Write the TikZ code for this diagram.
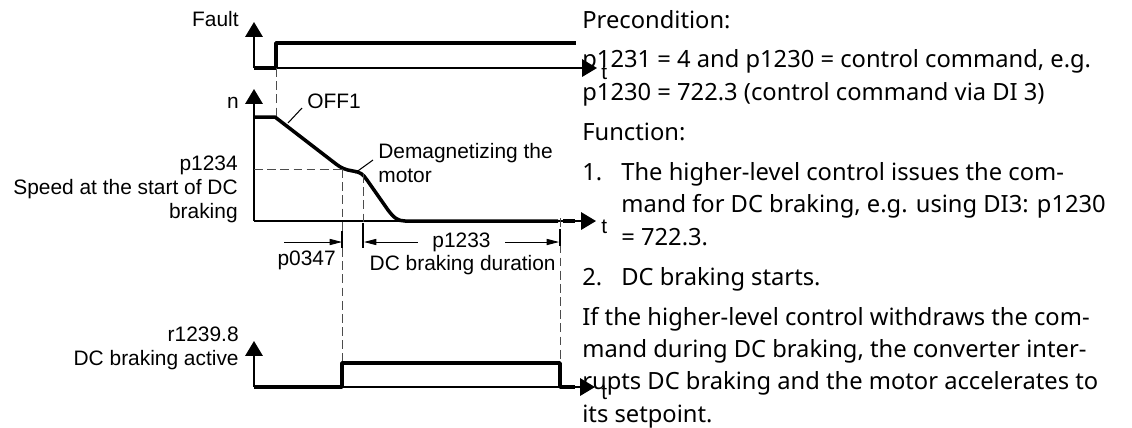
\documentclass[tikz,border=0pt]{standalone}
\usepackage{fontspec}
\setmainfont{Liberation Sans}
\newfontfamily\txtfont{Noto Sans}
\usetikzlibrary{arrows.meta, positioning}

\begin{document}
\begin{tikzpicture}[
    x=0.02cm, y=-0.02cm,
    lbl/.style={font=\fontsize{11.9}{13.6}\selectfont, inner sep=0pt, align=right},
    txt/.style={font=\txtfont\fontsize{13.5}{18.3}\selectfont, inner sep=0pt,
                anchor=base west, align=left},
    axis/.style={line width=0.8pt, -{Triangle[length=8.5pt,width=10pt]}},
    sig/.style={line width=2pt, line join=round},
    guide/.style={black!70, line width=0.5pt, dash pattern=on 5pt off 2.5pt},
    dim/.style={line width=0.5pt, -{Triangle[length=7pt,width=3.5pt]}},
    tick/.style={line width=0.6pt}
]
    \useasboundingbox (0,0) rectangle (1132,427);

    % Fault
    \coordinate (fo) at (254,68);
    \coordinate (fy) at (254,22);
    \coordinate (fx) at (597,68);
    \draw[axis] (fo) -- (fy);
    \draw[axis] (fo) -- (fx);
    \draw[sig] (fo) -- (276,68) -- (276,43) -- (576,43);
    \node[lbl, anchor=base east] (fault) at (239,26) {Fault};
    \node[lbl, anchor=base west] (ft) at (601,79) {t};

    % speed
    \coordinate (no) at (254,221);
    \coordinate (ny) at (254,89);
    \coordinate (nx) at (596,221);
    \draw[axis] (no) -- (ny);
    \draw[axis] (no) -- (nx);
    \node[lbl, anchor=base east] (n) at (239,108) {n};
    \node[lbl, anchor=base west] (nt) at (601,233) {t};
    \draw[sig] (254,117) -- (275,117) -- (336,164)
        .. controls (341,168) and (346,170) .. (353,171)
        .. controls (360,172) and (363,174) .. (367,180) -- (388,210)
        .. controls (394,218) and (398,221) .. (405,221) -- (558,221);
    \draw[sig] (563,221) -- (575,221);

    \draw[guide] (276,68) -- (276,117);
    \draw[guide] (254,169) -- (342,169);
    \draw[guide] (342,169) -- (342,363);
    \draw[guide] (363,174) -- (363,224);
    \draw[guide] (560,218) -- (560,363);
    \draw[tick] (342,231) -- (342,248);
    \draw[tick] (363,223) -- (363,248);
    \draw[tick] (560,229) -- (560,246);

    \node[lbl, anchor=base east] (spd) at (238,218)
        {p1234\\Speed at the start of DC\\braking};
    \node[lbl, anchor=base west] (off) at (307,108) {OFF1};
    \draw[line width=0.6pt] (288,123) -- (302,108);
    \node[lbl, anchor=base west, align=left] (demag) at (378,182)
        {Demagnetizing the\\motor};
    \draw[line width=0.6pt] (355,173) -- (373,160);

    \draw[dim] (284,242) -- (342,242);
    \node[lbl, anchor=base east] (p0347) at (336,265) {p0347};
    \draw[dim, {Triangle[length=7pt,width=3.5pt]}-{Triangle[length=7pt,width=3.5pt]}]
        (364,242) -- node[lbl, fill=white, inner xsep=8pt, inner ysep=1pt] (p1233) {p1233} (559,242);
    \node[lbl, anchor=base east] (dur) at (556,270) {DC braking duration};

    % DC braking active
    \coordinate (ro) at (254,387);
    \coordinate (ry) at (254,341);
    \coordinate (rx) at (595,387);
    \draw[axis] (ro) -- (ry);
    \draw[axis] (ro) -- (rx);
    \draw[sig] (ro) -- (342,387) -- (342,363) -- (560,363) -- (560,387) -- (575,387);
    \node[lbl, anchor=base east] (act) at (239,365) {r1239.8\\DC braking active};
    \node[lbl, anchor=base west] (rt) at (601,399) {t};

    % text
    \node[txt] (pre) at (582,28) {Precondition:};
    \node[txt] (cond) at (582,100)
        {p1231 = 4 and p1230 = control command, e.g.\\p1230 = 722.3 (control command via DI 3)};
    \node[txt] (fun) at (582,140) {Function:};
    \node[txt] (n1) at (582,180) {1.};
    \node[txt] (s1) at (621,245)
        {The higher-level control issues the com-\\mand for DC braking, e.g. using DI3: p1230\\= 722.3.};
    \node[txt] (n2) at (582,285) {2.};
    \node[txt] (s2) at (621,285) {DC braking starts.};
    \node[txt] (note) at (582,422)
        {If the higher-level control withdraws the com-\\mand during DC braking, the converter inter-\\rupts DC braking and the motor accelerates to\\its setpoint.};
\end{tikzpicture}
\end{document}
